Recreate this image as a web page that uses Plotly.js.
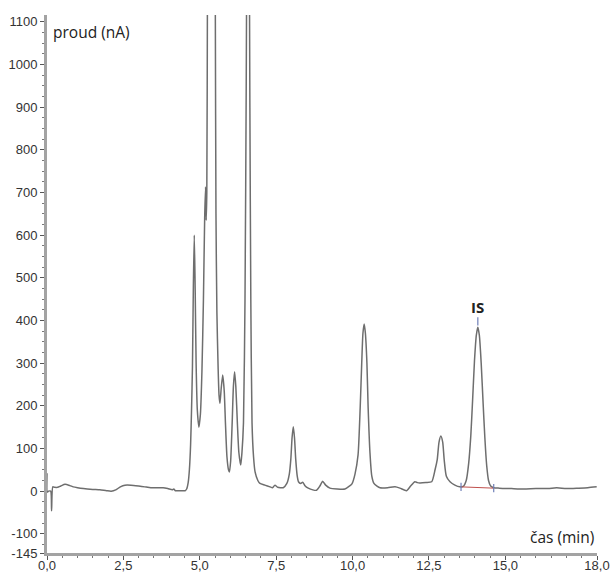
<!DOCTYPE html>
<html>
<head>
<meta charset="utf-8">
<script src="https://cdn.plot.ly/plotly-3.0.1.min.js"></script>
<style>html,body{margin:0;padding:0;background:#fff;}#chart{width:611px;height:572px;}</style>
</head>
<body>
<div id="chart"></div>
<script>
// retention time (min)
const time = [
  0.00, 0.01, 0.05, 0.12, 0.15, 0.19, 0.25, 0.35, 0.45, 0.59, 0.75, 0.86, 1.00, 1.19, 1.50, 1.73, 1.95, 2.10,
  2.25, 2.40, 2.55, 2.75, 3.00, 3.20, 3.40, 3.60, 3.80, 3.95, 4.10, 4.15, 4.20, 4.40, 4.52, 4.57, 4.62, 4.66,
  4.70, 4.73, 4.76, 4.79, 4.82, 4.85, 4.88, 4.92, 4.97, 5.02, 5.07, 5.12, 5.16, 5.19, 5.21, 5.23, 5.25, 5.28,
  5.33, 5.39, 5.45, 5.49, 5.51, 5.53, 5.56, 5.60, 5.63, 5.66, 5.70, 5.75, 5.80, 5.84, 5.89, 5.94, 5.97, 6.01,
  6.06, 6.10, 6.14, 6.18, 6.23, 6.28, 6.34, 6.38, 6.43, 6.48, 6.52, 6.55, 6.58, 6.61, 6.64, 6.67, 6.71, 6.76,
  6.81, 6.90, 6.97, 7.13, 7.30, 7.38, 7.46, 7.55, 7.73, 7.85, 7.93, 7.98, 8.02, 8.06, 8.10, 8.14, 8.19, 8.23,
  8.30, 8.37, 8.45, 8.55, 8.70, 8.82, 8.93, 9.02, 9.12, 9.26, 9.50, 9.75, 9.90, 9.98, 10.08, 10.18, 10.25, 10.30,
  10.34, 10.38, 10.42, 10.47, 10.51, 10.57, 10.63, 10.70, 10.80, 10.90, 11.15, 11.39, 11.55, 11.77, 11.90, 12.04,
  12.12, 12.20, 12.40, 12.59, 12.70, 12.77, 12.83, 12.89, 12.95, 13.00, 13.07, 13.19, 13.35, 13.51, 13.62, 13.72,
  13.80, 13.87, 13.93, 13.99, 14.05, 14.10, 14.15, 14.21, 14.27, 14.33, 14.39, 14.45, 14.52, 14.62, 14.80, 15.20,
  15.60, 16.00, 16.40, 16.68, 17.00, 17.40, 17.70, 17.99
];
// detector current (nA)
const current = [
  42, -2, 0, 0, -46, 10, 9, 9, 12, 16, 13, 10, 8, 6, 4, 3, 1, 0,
  3, 10, 14, 14, 12, 10, 8, 8, 8, 6, 3, 5, 1, 1, 1, 5, 20, 50,
  110, 190, 290, 480, 600, 470, 300, 190, 150, 180, 280, 450, 640, 713, 635, 700, 1150, 1800,
  2400, 2600, 2400, 1600, 1100, 650, 420, 290, 225, 206, 240, 272, 235, 160, 80, 50, 45, 70,
  160, 245, 280, 245, 160, 90, 61, 90, 160, 450, 950, 1450, 1700, 1450, 900, 450, 160, 80,
  45, 25, 18, 14, 10, 8, 14, 9, 8, 18, 40, 75, 125, 151, 125, 75, 35, 22,
  18, 21, 12, 7, 3, 2, 12, 23, 14, 7, 5, 5, 12, 17, 40, 85, 196, 300,
  370, 392, 370, 300, 196, 90, 35, 18, 12, 8, 8, 10, 7, 1, 12, 22,
  20, 19, 20, 22, 50, 73, 115, 129, 115, 73, 35, 22, 14, 10, 11, 25,
  65, 130, 215, 305, 365, 384, 365, 300, 210, 125, 60, 25, 12, 8, 7, 6,
  5, 6, 6, 8, 6, 7, 8, 10
];
// integration baseline of the IS peak
const isBaseTime = [13.55, 14.62];
const isBaseCurrent = [10, 7];
const isMarkTime = [13.55, 14.10, 14.62];
const isMarkCurrent = [10, 398, 7];
const isLabel = "IS";

const xTickVals = [0, 2.5, 5, 7.5, 10, 12.5, 15, 18];
const xTickText = ["0,0", "2,5", "5,0", "7,5", "10,0", "12,5", "15,0", "18,0"];
const yTickVals = [-145, -100, 0, 100, 200, 300, 400, 500, 600, 700, 800, 900, 1000, 1100];
const yTickText = ["-145", "-100", "0", "100", "200", "300", "400", "500", "600", "700", "800", "900", "1000", "1100"];
const xTitle = "čas (min)";
const yTitle = "proud (nA)";

const traces = [
  {x: time, y: current, type: "scatter", mode: "lines",
   line: {color: "#6e6e6e", width: 1.5, shape: "spline", smoothing: 0.6},
   hoverinfo: "skip", cliponaxis: true},
  {x: isBaseTime, y: isBaseCurrent, type: "scatter", mode: "lines",
   line: {color: "#c0504d", width: 1}, hoverinfo: "skip"},
  {x: isMarkTime, y: isMarkCurrent, type: "scatter", mode: "markers",
   marker: {symbol: "line-ns", size: 6, line: {color: "#6f7fb8", width: 1.2}}, hoverinfo: "skip"}
];

const axisCommon = {
  showgrid: false, zeroline: false, showline: true, linecolor: "#a3a3a3", linewidth: 3,
  ticks: "outside", ticklen: 4, tickwidth: 1, tickcolor: "#555",
  tickfont: {family: "Liberation Sans, Arial, sans-serif", size: 13, color: "#333"},
  tickmode: "array", fixedrange: true
};

const layout = {
  width: 611, height: 572,
  margin: {l: 47, r: 14, t: 15, b: 19, pad: 0},
  paper_bgcolor: "#fff", plot_bgcolor: "#fff",
  showlegend: false,
  xaxis: Object.assign({}, axisCommon, {
    range: [0, 18], tickvals: xTickVals, ticktext: xTickText, ticklabelstandoff: -6,
    minor: {tickmode: "linear", tick0: 0, dtick: 0.5, ticks: "outside", ticklen: 2, tickcolor: "#777"}
  }),
  yaxis: Object.assign({}, axisCommon, {
    range: [-145, 1116], tickvals: yTickVals, ticktext: yTickText,
    minor: {tickmode: "linear", tick0: 0, dtick: 25, ticks: "outside", ticklen: 2, tickcolor: "#777"}
  }),
  annotations: [
    {text: yTitle, xref: "paper", yref: "paper", x: 0, y: 1, xanchor: "left", yanchor: "top",
     xshift: 4, yshift: -4, showarrow: false,
     font: {family: "Open Sans, sans-serif", size: 15.5, color: "#222"}},
    {text: xTitle, xref: "paper", yref: "paper", x: 1, y: 0, xanchor: "right", yanchor: "bottom",
     xshift: -1, yshift: 3, showarrow: false,
     font: {family: "Open Sans, sans-serif", size: 15.5, color: "#222"}},
    {text: "<b>" + isLabel + "</b>", x: isMarkTime[1], y: current[time.indexOf(14.10)], xref: "x", yref: "y",
     xanchor: "center", yanchor: "bottom", yshift: 8, showarrow: false,
     font: {family: "Open Sans, sans-serif", size: 15, color: "#222"}}
  ]
};

Plotly.newPlot("chart", traces, layout, {staticPlot: true, displayModeBar: false});
</script>
</body>
</html>
